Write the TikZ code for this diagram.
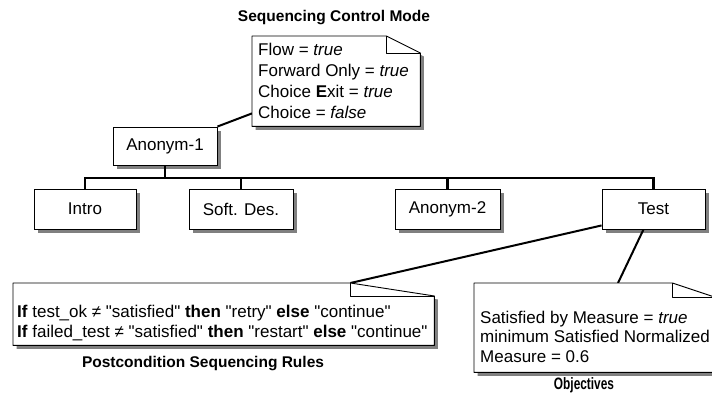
\documentclass[tikz,border=0pt]{standalone}
\usepackage{fontspec}
\setmainfont{Liberation Sans}
\usetikzlibrary{calc,shadows}

% straight double quote, set as a glyph so that no text mapping curls it
\newcommand{\dq}{\XeTeXglyph\XeTeXcharglyph"22\relax}

% Note with a folded top-right corner and a grey drop shadow.
% #1 frame node, #2 fold width, #3 fold height
\newcommand{\dognote}[3]{%
  \fill[black!50] ($(#1.north west)+(3.5,3.5)$) -- ($(#1.north east)+(3.5-#2,3.5)$)
     -- ($(#1.north east)+(3.5,#3+3.5)$) -- ($(#1.south east)+(3.5,3.5)$)
     -- ($(#1.south west)+(3.5,3.5)$) -- cycle;
  \filldraw[fill=white, draw=black, line width=0.9pt, line join=round]
     (#1.north west) -- ($(#1.north east)+(-#2,0)$) -- ($(#1.north east)+(0,#3)$)
     -- (#1.south east) -- (#1.south west) -- cycle;
  \draw[line width=0.9pt, line join=round] ($(#1.north east)+(-#2,0)$)
     -- ($(#1.north east)+(-#2,#3)$) -- ($(#1.north east)+(0,#3)$);
}

\begin{document}
\begin{tikzpicture}[x=1pt, y=-1pt,
  every node/.style={font=\fontsize{17}{20.5}\selectfont, inner sep=0pt},
  box/.style={draw=black, line width=0.9pt, fill=white,
    minimum width=104pt, minimum height=40pt,
    drop shadow={shadow xshift=3.5pt, shadow yshift=-3.5pt, fill=black!50, opacity=1}},
  frame/.style={draw=none, anchor=north west},
  line/.style={anchor=base west},
  title/.style={font=\fontsize{15.5}{18}\selectfont\bfseries},
  tree/.style={line width=2.6pt},
  link/.style={line width=2pt},
]
\useasboundingbox (0,0) rectangle (712,396);
\clip (0,0) rectangle (712,396);

% activity tree
\node[box, minimum height=38pt] (a1) at (165,146) {Anonym-1};
\node[box, minimum width=102pt] (intro) at (85,209) {Intro};
\node[box] (softdes) at (241,209) {Soft. Des.};
\node[box, minimum width=105pt] (a2) at (447.5,209) {Anonym-2};
\node[box, minimum width=103pt] (test) at (653.5,209) {Test};

\coordinate (bus) at (0,178);
\draw[tree] (a1.south) -- (a1.south |- bus);
\draw[tree] (intro.north) -- (intro.north |- bus) -- (test.north |- bus) -- (test.north);
\draw[tree] (softdes.north) -- (softdes.north |- bus);
\draw[tree] (a2.north) -- (a2.north |- bus);

% note frames
\node[frame, minimum width=168pt, minimum height=90pt] (n1) at (252,36) {};
\node[frame, minimum width=421pt, minimum height=62pt] (n2) at (13,283) {};
\node[frame, minimum width=240pt, minimum height=89pt] (n3) at (474,283) {};

\coordinate (n1in) at ($(n1.south west)+(0,-13)$);
\coordinate (n2fold) at ($(n2.north east)+(-84,0)$);
\coordinate (n3in) at ($(n3.north west)+(144,0)$);

% links from the activities to their notes
\draw[link] (a1.north east) -- (n1in);
\draw[link] ([yshift=4pt]test.south west) -- (n2fold);
\draw[link] ([xshift=-10pt]test.south) -- (n3in);

\dognote{n1}{34}{17}
\dognote{n2}{84}{13}
\dognote{n3}{42}{14}

% sequencing control mode
\node[title] (t1) at (334,18) {Sequencing Control Mode};
\node[line] (n1a) at (258,56) {Flow = \textit{true}};
\node[line] (n1b) at (258,77) {Forward Only = \textit{true}};
\node[line] (n1c) at (258,97.5) {Choice \textbf{E}xit = \textit{true}};
\node[line] (n1d) at (258,118) {Choice = \textit{false}};

% postcondition rules
\node[line] (n2a) at (17,317) {\textbf{If} test\_ok ≠ \dq satisfied\dq{} \textbf{then} \dq retry\dq{} \textbf{else} \dq continue\dq};
\node[line] (n2b) at (17,337) {\textbf{If} failed\_test ≠ \dq satisfied\dq{} \textbf{then} \dq restart\dq{} \textbf{else} \dq continue\dq};
\node[title] (t2) at (203,364) {Postcondition Sequencing Rules};

% objectives
\node[line] (n3a) at (480,323) {Satisfied by Measure = \textit{true}};
\node[line] (n3b) at (480,342.5) {minimum Satisfied Normalized};
\node[line] (n3c) at (480,362) {Measure = 0.6};
\node[title, xscale=0.72, font=\fontsize{16.5}{18}\selectfont\bfseries] (t3) at (584,385) {Objectives};
\end{tikzpicture}
\end{document}
